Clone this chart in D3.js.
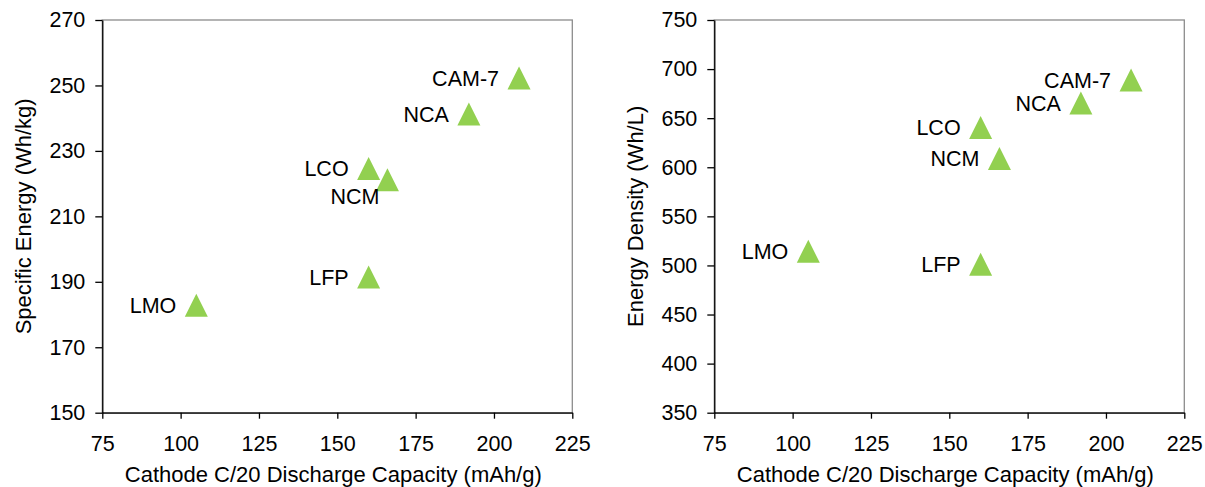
<!DOCTYPE html>
<html>
<head>
<meta charset="utf-8">
<script src="https://cdn.jsdelivr.net/npm/d3@7"></script>
<style>
  body { margin: 0; background: #fff; }
  svg text { font-family: "Liberation Sans", Arial, sans-serif; fill: #000; }
</style>
</head>
<body>
<div id="chart"></div>
<script>

// cathode materials and their measured values
const materials = ["LMO", "LFP", "LCO", "NCM", "NCA", "CAM-7"];
const capacity = [105, 160, 160, 166, 192, 208];          // mAh/g
const specificEnergy = [182.8, 191.5, 224.6, 221.2, 241.3, 252.3]; // Wh/kg
const energyDensity = [514.5, 501.2, 640.5, 608.8, 665.5, 689];    // Wh/L

const xTicks = [75, 100, 125, 150, 175, 200, 225];
const specificTicks = [150, 170, 190, 210, 230, 250, 270];
const densityTicks = [350, 400, 450, 500, 550, 600, 650, 700, 750];

const xTitle = "Cathode C/20 Discharge Capacity (mAh/g)";


class ScatterVis {

    MARKER = 11.5;
    LABEL_GAP = 20;

    constructor(svg, left, values, yTicks, yTitle, labelOffsets) {
      this.svg = svg;
      this.left = left;
      this.values = values;
      this.yTicks = yTicks;
      this.yTitle = yTitle;
      this.labelOffsets = labelOffsets || {};

      this.initVis();
    }

    initVis() {
      let vis = this;

      vis.top = 20;
      vis.width = 470;
      vis.height = 392.7;

      vis.g = vis.svg.append("g")
          .attr("transform", `translate(${vis.left}, ${vis.top})`);

      vis.x = d3.scaleLinear()
          .domain(d3.extent(xTicks))
          .range([0, vis.width]);

      vis.y = d3.scaleLinear()
          .domain(d3.extent(vis.yTicks))
          .range([vis.height, 0]);

      // plot area border (gray), axes drawn on top in black
      vis.g.append("rect")
          .attr("width", vis.width)
          .attr("height", vis.height)
          .attr("fill", "none")
          .attr("stroke", "#8c8c8c")
          .attr("stroke-width", 1.3);

      let xAxis = vis.g.append("g")
          .attr("transform", `translate(0, ${vis.height})`)
          .call(d3.axisBottom(vis.x).tickValues(xTicks).tickSize(6).tickSizeOuter(0).tickPadding(17.5));

      let yAxis = vis.g.append("g")
          .call(d3.axisLeft(vis.y).tickValues(vis.yTicks).tickSize(7).tickSizeOuter(0).tickPadding(10));

      [xAxis, yAxis].forEach(a => {
        a.selectAll("path, line").attr("stroke", "#000").attr("stroke-width", 1.3);
        a.selectAll("text").attr("font-size", "21.5px").attr("font-family", "Liberation Sans, Arial, sans-serif").attr("fill", "#000");
      });

      vis.g.append("text")
          .attr("x", vis.width / 2 - 4)
          .attr("y", 461.5)
          .attr("text-anchor", "middle")
          .attr("font-size", "22px")
          .text(xTitle);

      vis.g.append("text")
          .attr("transform", `translate(-71, ${vis.height / 2}) rotate(-90)`)
          .attr("text-anchor", "middle")
          .attr("font-size", "22px")
          .text(vis.yTitle);

      vis.updateVis();
    }

    updateVis() {
      let vis = this;
      let m = vis.MARKER;

      let points = materials.map((name, i) => ({
          name: name,
          cx: vis.x(capacity[i]),
          cy: vis.y(vis.values[i])
      }));

      vis.g.selectAll("path.marker")
          .data(points)
          .join("path")
          .attr("class", "marker")
          .attr("transform", d => `translate(${d.cx}, ${d.cy})`)
          .attr("d", `M0,${-m}L${m},${m}L${-m},${m}Z`)
          .attr("fill", "#92d050");

      vis.g.selectAll("text.label")
          .data(points)
          .join("text")
          .attr("class", "label")
          .attr("x", d => d.cx + (vis.labelOffsets[d.name] ? vis.labelOffsets[d.name][0] : -vis.LABEL_GAP))
          .attr("y", d => d.cy + (vis.labelOffsets[d.name] ? vis.labelOffsets[d.name][1] : 0))
          .attr("dy", "0.36em")
          .attr("text-anchor", "end")
          .attr("font-size", "21.5px")
          .text(d => d.name);
    }
}

let svg = d3.select("#chart").append("svg")
    .attr("width", 1205)
    .attr("height", 487);

new ScatterVis(svg, 102.3, specificEnergy, specificTicks, "Specific Energy (Wh/kg)", {"NCM": [-8, 17]});
new ScatterVis(svg, 714.3, energyDensity, densityTicks, "Energy Density (Wh/L)");

</script>
</body>
</html>
